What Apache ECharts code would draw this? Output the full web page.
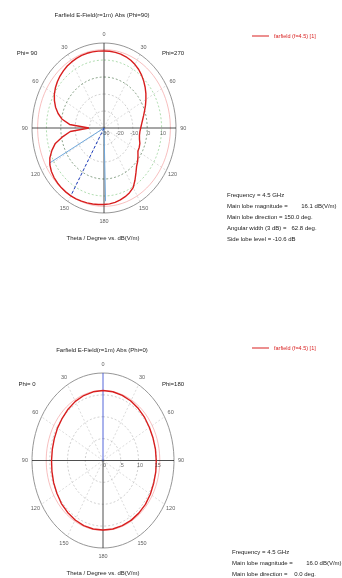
<!DOCTYPE html>
<html>
<head>
<meta charset="utf-8">
<script src="https://cdn.jsdelivr.net/npm/echarts@6/dist/echarts.min.js"></script>
<style>
  html, body { margin: 0; padding: 0; background: #ffffff; }
  #chart { width: 342px; height: 578px; }
</style>
</head>
<body>
<div id="chart"></div>
<script>
// ---------- data ----------
const angleTicks = [0, 30, 60, 90, 120, 150, 180];

// upper plot: cut at Phi=90 (left half) and Phi=270 (right half), theta in degrees
const upperTheta = [0, 5, 10, 15, 20, 25, 30, 35, 40, 45, 50, 55, 60, 65, 70, 75, 80, 85, 90,
  95, 100, 105, 110, 115, 120, 125, 130, 135, 140, 145, 150, 155, 160, 165, 170, 175, 180];
const upperPhi90 = [15.3, 15.4, 15.5, 15.5, 15.4, 15.2, 14.9, 14.5, 13.9, 13.2, 12.3, 11.2, 9.8,
  8.0, 5.8, 3.0, -0.5, -6.0, -19.5, -6.5, -1.0, 5.0, 8.5, 11.5, 13.4, 14.6, 15.3, 15.7, 15.95,
  16.05, 16.1, 16.0, 15.8, 15.6, 15.4, 15.2, 15.0];
const upperPhi270 = [15.3, 15.3, 15.2, 15.0, 14.6, 14.0, 13.1, 12.0, 10.6, 9.0, 7.3, 5.5, 3.6,
  1.8, 0.0, -1.5, -2.8, -3.8, -4.5, -5.0, -5.0, -4.5, -3.5, -3.0, -2.8, -1.2, 0.5, 2.0, 4.5,
  7.5, 10.5, 12.0, 13.0, 13.8, 14.4, 14.8, 15.0];
const upperRadialTicks = [-30, -20, -10, 0, 10, 20];
const upperMainLobe = 150.0;
const upperMagnitude = 16.1;
const upperBeamEdges = [118.6, 181.4];
const upperBeamWidth = 62.8;
const upperSideLobeLevel = -10.6;

// lower plot: cut at Phi=0 (left half) and Phi=180 (right half)
const lowerTheta = [0, 10, 20, 30, 40, 50, 60, 70, 80, 90, 100, 110, 120, 130, 140, 150, 160, 170, 180];
const lowerPhi0 = [16.0, 15.95, 15.8, 15.6, 15.3, 15.0, 14.8, 14.6, 14.5, 14.5, 14.6, 14.8, 15.0,
  15.3, 15.5, 15.7, 15.85, 15.9, 15.9];
const lowerPhi180 = [16.0, 15.95, 15.85, 15.7, 15.5, 15.3, 15.1, 15.0, 15.0, 15.0, 15.1, 15.2,
  15.4, 15.6, 15.7, 15.8, 15.85, 15.9, 15.9];
const lowerRadialTicks = [0, 5, 10, 15, 20];
const lowerMainLobe = 0.0;
const lowerMagnitude = 16.0;

const seriesName = 'farfield (f=4.5) [1]';

// ---------- helpers ----------
const FONT = '"Liberation Sans", Arial, sans-serif';
const DEG = Math.PI / 180;

function makeNorm(ticks) {
  const lo = ticks[0], hi = ticks[ticks.length - 1];
  return v => Math.max(0, (v - lo) / (hi - lo));
}
// side = -1 draws the left half, +1 the right half
function pt(theta, r, side) {
  return [side * r * Math.sin(theta * DEG), r * Math.cos(theta * DEG)];
}
function ellipse(r) {
  const out = [];
  for (let a = 0; a <= 360; a += 4) out.push(pt(a, r, 1));
  return out;
}
function lineSeries(idx, data, color, width, type, z) {
  return {
    type: 'line', xAxisIndex: idx, yAxisIndex: idx, data: data,
    showSymbol: false, symbol: 'none', silent: true, clip: false, animation: false,
    lineStyle: { color: color, width: width, type: type || 'solid' }, z: z || 2
  };
}

function buildPlot(idx, cfg) {
  const norm = makeNorm(cfg.ticks);
  const s = [];
  // dashed spokes every 30 degrees
  const spokes = [];
  for (let a = 30; a < 360; a += 30) {
    if (a % 90 === 0) continue;
    spokes.push([0, 0], pt(a, 1, 1), '-');
  }
  s.push(lineSeries(idx, spokes, '#c4c4c4', 0.6, [2, 2], 1));
  // inner rings
  cfg.ticks.slice(1, -1).forEach(v => {
    const c = (cfg.ringColors && cfg.ringColors[v]) || '#bdbdbd';
    s.push(lineSeries(idx, ellipse(norm(v)), c, 0.7, [2, 2], 1));
  });
  // outer ring
  s.push(lineSeries(idx, ellipse(1), '#8a8a8a', 0.9, 'solid', 2));
  // main lobe magnitude ring
  s.push(lineSeries(idx, ellipse(norm(cfg.magnitude)), '#f3a3a3', 0.7, 'solid', 2));
  // axes through the centre
  s.push(lineSeries(idx, [pt(90, 1, -1), pt(90, 1, 1)], '#222', 0.8, 'solid', 3));
  s.push(lineSeries(idx, [pt(180, 1, 1), [0, 0]], '#222', 0.8, 'solid', 3));
  s.push(lineSeries(idx, [[0, 0], pt(0, 1, 1)], cfg.upAxisColor || '#222', 0.8, 'solid', 3));
  // beam direction and 3 dB edges
  if (cfg.beamEdges) {
    cfg.beamEdges.forEach(t => {
      s.push(lineSeries(idx, [[0, 0], pt(t, norm(cfg.magnitude - 3), cfg.mainSide)], '#6fa8dc', 1, 'solid', 4));
    });
    s.push(lineSeries(idx, [[0, 0], pt(cfg.mainLobe, norm(cfg.magnitude), cfg.mainSide)], '#1f3fbf', 1, [3, 2], 4));
  }
  // pattern curve: left half going down, then right half coming back up
  const curve = [];
  cfg.theta.forEach((t, i) => curve.push(pt(t, norm(cfg.left[i]), -1)));
  for (let i = cfg.theta.length - 1; i >= 0; i--) curve.push(pt(cfg.theta[i], norm(cfg.right[i]), 1));
  const cs = lineSeries(idx, curve, '#d81e1e', 1.4, 'solid', 5);
  cs.name = seriesName;
  cs.itemStyle = { color: '#d81e1e' };
  s.push(cs);
  // angle labels around the rim
  const angLab = [];
  angleTicks.forEach(a => {
    angLab.push({ value: pt(a, 1.1, -1), label: String(a) });
    if (a !== 0 && a !== 180) angLab.push({ value: pt(a, 1.1, 1), label: String(a) });
  });
  s.push({
    type: 'scatter', xAxisIndex: idx, yAxisIndex: idx, symbolSize: 0, silent: true, clip: false,
    animation: false, z: 6,
    data: angLab.map(d => ({ value: d.value, name: d.label })),
    label: { show: true, position: 'inside', formatter: p => p.name,
      fontSize: 5.5, fontFamily: FONT, color: '#333' }
  });
  // radial tick labels along the right horizontal axis
  s.push({
    type: 'scatter', xAxisIndex: idx, yAxisIndex: idx, symbolSize: 0, silent: true, clip: false,
    animation: false, z: 6,
    data: cfg.ticks.slice(0, -1).map(v => ({ value: pt(90, norm(v), 1), name: String(v) })),
    label: { show: true, position: 'bottom', distance: 2, offset: [1.5, 0], formatter: p => p.name,
      fontSize: 5.5, fontFamily: FONT, color: '#444' }
  });
  return s;
}

const upperCfg = {
  theta: upperTheta, left: upperPhi90, right: upperPhi270, ticks: upperRadialTicks,
  magnitude: upperMagnitude, mainLobe: upperMainLobe, beamEdges: upperBeamEdges, mainSide: -1,
  ringColors: { 10: '#8fcf8f', 0: '#5c7f5c' }
};
const lowerCfg = {
  theta: lowerTheta, left: lowerPhi0, right: lowerPhi180, ticks: lowerRadialTicks,
  magnitude: lowerMagnitude, mainLobe: lowerMainLobe, mainSide: 1, upAxisColor: '#2a3fd0'
};

function txt(x, y, text, opts) {
  opts = opts || {};
  return {
    type: 'text', x: x, y: y, silent: true,
    style: {
      text: text, fill: opts.color || '#222', font: (opts.size || 6) + 'px ' + FONT,
      textAlign: opts.align || 'center', textVerticalAlign: 'middle'
    }
  };
}

const upperInfo = [
  'Frequency = 4.5 GHz',
  'Main lobe magnitude =        ' + upperMagnitude.toFixed(1) + ' dB(V/m)',
  'Main lobe direction = ' + upperMainLobe.toFixed(1) + ' deg.',
  'Angular width (3 dB) =   ' + upperBeamWidth.toFixed(1) + ' deg.',
  'Side lobe level = ' + upperSideLobeLevel.toFixed(1) + ' dB'
];
const lowerInfo = [
  'Frequency = 4.5 GHz',
  'Main lobe magnitude =        ' + lowerMagnitude.toFixed(1) + ' dB(V/m)',
  'Main lobe direction =    ' + lowerMainLobe.toFixed(1) + ' deg.'
];

const graphics = [
  txt(102, 15, 'Farfield E-Field(r=1m) Abs (Phi=90)'),
  txt(27, 53, 'Phi= 90'), txt(173, 53, 'Phi=270'),
  txt(103, 238, 'Theta / Degree vs. dB(V/m)'),
  txt(102, 350, 'Farfield E-Field(r=1m) Abs (Phi=0)'),
  txt(27, 384, 'Phi= 0'), txt(173, 384, 'Phi=180'),
  txt(103, 573, 'Theta / Degree vs. dB(V/m)')
];
upperInfo.forEach((t, i) => graphics.push(txt(227, 195 + i * 11, t, { align: 'left' })));
lowerInfo.forEach((t, i) => graphics.push(txt(232, 552 + i * 11, t, { align: 'left' })));

const chart = echarts.init(document.getElementById('chart'), null, { renderer: 'canvas' });
const axisBase = { type: 'value', min: -1, max: 1, show: false, splitLine: { show: false } };
chart.setOption({
  animation: false,
  backgroundColor: '#ffffff',
  grid: [
    { left: 32, top: 43, width: 144, height: 170 },
    { left: 32, top: 373, width: 142, height: 175 }
  ],
  xAxis: [Object.assign({ gridIndex: 0 }, axisBase), Object.assign({ gridIndex: 1 }, axisBase)],
  yAxis: [Object.assign({ gridIndex: 0 }, axisBase), Object.assign({ gridIndex: 1 }, axisBase)],
  legend: [
    { left: 252, top: 33, data: [seriesName], icon: 'rect', itemWidth: 17, itemHeight: 1, itemGap: 2,
      textStyle: { fontSize: 5.5, fontFamily: FONT, color: '#d81e1e' }, padding: 0 },
    { left: 252, top: 345, data: [seriesName], icon: 'rect', itemWidth: 17, itemHeight: 1, itemGap: 2,
      textStyle: { fontSize: 5.5, fontFamily: FONT, color: '#d81e1e' }, padding: 0 }
  ],
  graphic: graphics,
  series: buildPlot(0, upperCfg).concat(buildPlot(1, lowerCfg))
});
</script>
</body>
</html>
